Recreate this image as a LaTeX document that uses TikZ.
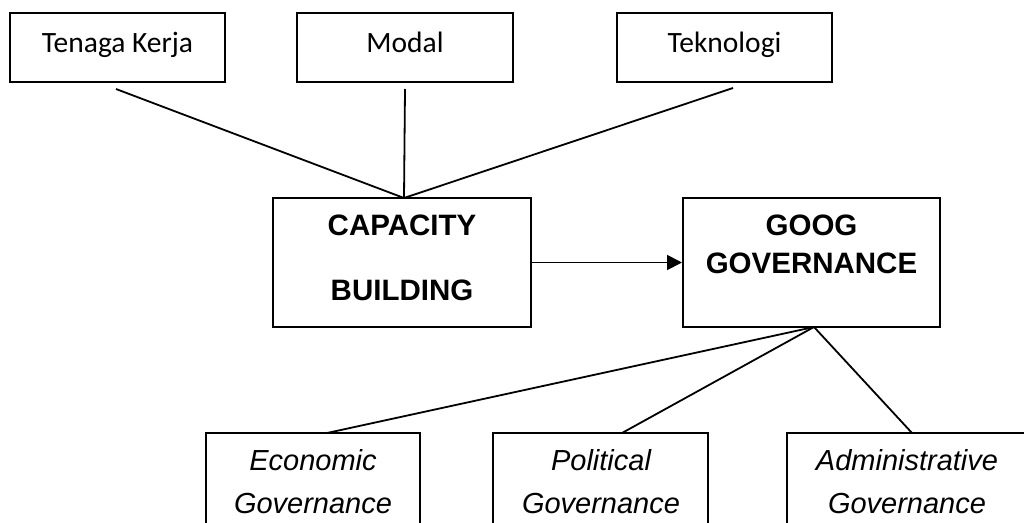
\documentclass[tikz,border=0pt]{standalone}
\usepackage{fontspec}
\setmainfont{Liberation Sans}
\newfontfamily\calibrifont{Carlito}
\usetikzlibrary{arrows.meta}

\tikzset{
  box/.style={draw=black, line width=2pt, rectangle, inner sep=0pt},
  link/.style={draw=black, line width=1.8pt},
  toplabel/.style={font=\calibrifont\fontsize{29.5}{32}\selectfont, anchor=base, inner sep=0pt},
  boldlabel/.style={font=\bfseries\fontsize{29.5}{32}\selectfont, anchor=base, inner sep=0pt},
  itlabel/.style={font=\itshape\fontsize{29}{32}\selectfont, anchor=base, inner sep=0pt},
}

\begin{document}
\begin{tikzpicture}[x=1pt, y=-1pt]
  \clip (0,0) rectangle (1024,522);
  \fill[white] (0,0) rectangle (1024,522);

  % input factors
  \node[box, minimum width=215pt, minimum height=69pt] (tenaga) at (117.5,47.5) {};
  \node[box, minimum width=216pt, minimum height=69pt] (modal) at (405,47.5) {};
  \node[box, minimum width=215pt, minimum height=69pt] (tekno) at (724.5,47.5) {};
  \node[toplabel] (tenagaT) at (117.5,52.5) {Tenaga Kerja};
  \node[toplabel] (modalT) at (405,52.5) {Modal};
  \node[toplabel] (teknoT) at (724.5,52.5) {Teknologi};

  % central boxes
  \node[box, minimum width=258pt, minimum height=129pt] (cap) at (402,262.5) {};
  \node[boldlabel] (capA) at (402,235) {CAPACITY};
  \node[boldlabel] (capB) at (402,300) {BUILDING};

  \node[box, minimum width=257pt, minimum height=129pt] (good) at (811.5,262.5) {};
  \node[boldlabel] (goodA) at (811.5,235) {GOOG};
  \node[boldlabel] (goodB) at (811.5,273) {GOVERNANCE};

  % governance dimensions
  \node[box, minimum width=214pt, minimum height=140pt] (eco) at (313,503) {};
  \node[box, minimum width=215pt, minimum height=140pt] (pol) at (600.5,503) {};
  \node[box, minimum width=240pt, minimum height=140pt] (adm) at (907,503) {};
  \node[itlabel] (ecoA) at (313,470) {Economic};
  \node[itlabel] (ecoB) at (313,513) {Governance};
  \node[itlabel] (polA) at (601,470) {Political};
  \node[itlabel] (polB) at (601,513) {Governance};
  \node[itlabel] (admA) at (907,470) {Administrative};
  \node[itlabel] (admB) at (907,513) {Governance};

  % connector ends
  \coordinate (s1) at (116,89);
  \coordinate (s2) at (405,89);
  \coordinate (s3) at (733,88);
  \coordinate (capTop) at (404,198);
  \coordinate (goodBot) at (814,327);
  \coordinate (e1) at (327,433);
  \coordinate (e2) at (622,433);
  \coordinate (e3) at (912,433);

  \draw[link] (s1) -- (capTop);
  \draw[link] (s2) -- (capTop);
  \draw[link] (s3) -- (capTop);

  \draw[link, -{Triangle[length=15pt, width=15pt]}] (cap.east) -- (good.west);

  \draw[link] (goodBot) -- (e1);
  \draw[link] (goodBot) -- (e2);
  \draw[link] (goodBot) -- (e3);
\end{tikzpicture}
\end{document}
